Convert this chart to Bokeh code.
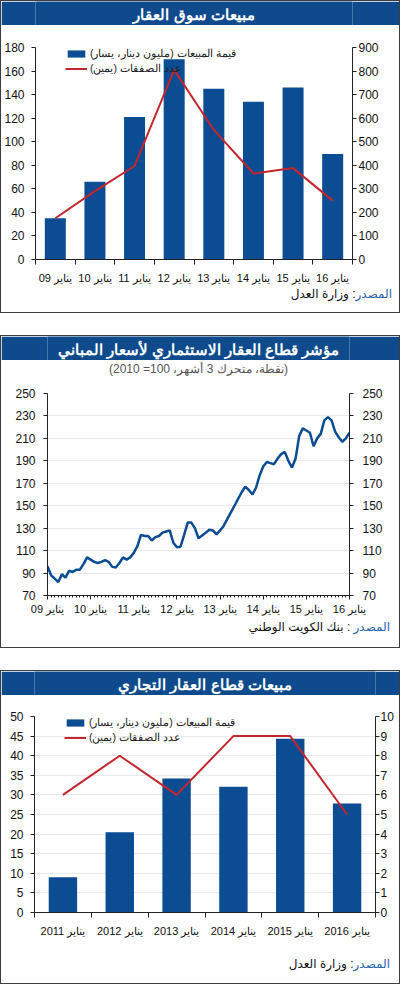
from bokeh.plotting import figure
from bokeh.layouts import column
from bokeh.models import Range1d, LinearAxis, FixedTicker, Legend, LegendItem, Spacer, Div
from bokeh.embed import file_html
from bokeh.resources import INLINE
from bokeh.core.properties import value

RLM = "\u200F"

# ---------------- data ----------------
# Panel 1: real-estate market sales
p1_title = "مبيعات سوق العقار"
p1_years = ["09", "10", "11", "12", "13", "14", "15", "16"]
p1_sales = [35, 66, 121, 170, 145, 134, 146, 89.5]          # left axis
p1_deals = [175, 290, 397, 805, 550, 365, 388, 250]         # right axis
p1_left_ticks = list(range(0, 181, 20))
p1_right_ticks = list(range(0, 901, 100))

# Panel 2: investment real-estate price index (monthly, Jan 09 .. Jan 16)
p2_title = "مؤشر قطاع العقار الاستثماري لأسعار المباني"
p2_subtitle = "(نقطة، متحرك 3 أشهر، 100= 2010)"
p2_index = [96, 88, 85, 82, 89, 86, 92, 91, 93, 93, 98, 104,
            102, 100, 99, 100, 101.5, 100, 95.5, 95, 99, 104, 102, 104,
            108, 114, 124, 123, 123, 119, 122, 123, 126, 127, 128, 117,
            113, 113.5, 124, 135, 135, 130, 121, 123.5, 126, 128.5, 128, 124.5,
            128, 132, 138, 144, 150, 156, 162, 167, 164, 160, 166, 177,
            185, 189, 188, 187, 192, 196, 198, 190, 184, 192, 212, 219,
            217, 215, 203, 210, 214, 226, 229, 226, 216, 211, 207, 210,
            215]
p2_years = ["09", "10", "11", "12", "13", "14", "15", "16"]
p2_ticks = list(range(70, 251, 20))

# Panel 3: commercial real-estate sales
p3_title = "مبيعات قطاع العقار التجاري"
p3_years = ["2011", "2012", "2013", "2014", "2015", "2016"]
p3_sales = [9, 20.5, 34.2, 32.1, 44.3, 27.8]                # left axis
p3_deals = [6, 8, 6, 9, 9, 5]                               # right axis
p3_left_ticks = list(range(0, 51, 5))
p3_right_ticks = list(range(0, 11, 1))

month_word = "يناير"
legend_sales = "قيمة المبيعات (مليون دينار، يسار)"
legend_deals = "عدد الصفقات (يمين)"
src_word = "المصدر"
src_moj = ": وزارة العدل"
src_nbk = " : بنك الكويت الوطني"

# ---------------- style ----------------
W = 398
FONT = "Liberation Sans"
NAVY = "#0f4b8c"
BAR = "#0b4c92"
RED = "#c4262e"
SRC_BLUE = "#1f62ad"
GRID = "#e9e9e9"
BORDER = {"border": "1px solid #3d3d3d"}


def bare(height, bg="white"):
    f = figure(width=W, height=height, x_range=Range1d(0, W), y_range=Range1d(height, 0),
               toolbar_location=None, output_backend="svg", min_border=0, title=None,
               x_axis_location=None, y_axis_location=None)
    f.grid.visible = False
    f.outline_line_color = None
    f.background_fill_color = bg
    f.border_fill_color = bg
    return f


def title_bar(text):
    f = bare(24, NAVY)
    f.text(x=[W / 2], y=[12.5], text=[text], text_align="center", text_baseline="middle",
           text_color="white", text_font=value(FONT), text_font_style="bold",
           text_font_size="15px")
    return f


def source_bar(height, pad_top, pad_right, txt):
    html = (f'<div dir="rtl" style="direction:rtl;text-align:right;display:block;'
            f'width:{W}px;box-sizing:border-box;'
            'font-family:\'Liberation Sans\',\'DejaVu Sans\',sans-serif;font-size:12px;'
            'line-height:14px;color:#111111;white-space:nowrap;'
            f'padding-top:{pad_top}px;padding-right:{pad_right}px;">'
            f'<span style="color:{SRC_BLUE}">{src_word}</span>{txt}</div>')
    return Div(text=html, width=W, height=height, margin=(0, 0, 0, 0),
               styles={"background-color": "white", "overflow": "hidden",
                       "width": f"{W}px"})


def style_axis(ax, standoff):
    ax.axis_line_color = "#222222"
    ax.major_tick_line_color = "#222222"
    ax.major_tick_out = 4
    ax.major_tick_in = 0
    ax.minor_tick_line_color = None
    ax.major_label_standoff = standoff
    ax.major_label_text_font = FONT
    ax.major_label_text_font_size = "12px"
    ax.major_label_text_color = "#111111"


def style_cat_xaxis(ax, ticks, minor, overrides, standoff=7):
    ax.ticker = FixedTicker(ticks=ticks, minor_ticks=minor)
    ax.major_label_overrides = overrides
    ax.axis_line_color = "#222222"
    ax.major_tick_line_color = None
    ax.major_tick_out = 0
    ax.major_tick_in = 0
    ax.minor_tick_line_color = "#222222"
    ax.minor_tick_out = 5
    ax.minor_tick_in = 0
    ax.major_label_standoff = standoff
    ax.major_label_text_font = FONT
    ax.major_label_text_font_size = "11px"
    ax.major_label_text_color = "#111111"


def make_legend(p, bars, line, frame_h):
    lg = Legend(items=[LegendItem(label=RLM + legend_sales + RLM, renderers=[bars]),
                       LegendItem(label=RLM + legend_deals + RLM, renderers=[line])],
                location=(28, frame_h - 34), orientation="vertical", padding=2, spacing=3,
                margin=0, glyph_width=22, glyph_height=9, label_height=9, label_standoff=3,
                label_text_font=FONT, label_text_font_size="10.5px", label_text_color="#222222",
                background_fill_alpha=0, border_line_alpha=0)
    p.add_layout(lg)


# ---------------- panel 1 ----------------
x1 = list(range(len(p1_years)))
c1 = figure(width=W, height=261, x_range=Range1d(-0.5, len(p1_years) - 0.5),
            y_range=Range1d(0, 180), toolbar_location=None, output_backend="svg", title=None,
            min_border_left=34, min_border_right=W - 34 - 317, min_border_top=22,
            min_border_bottom=22)
c1.outline_line_color = None
c1.grid.visible = False
c1.extra_y_ranges = {"right": Range1d(0, 900)}
c1.yaxis[0].ticker = FixedTicker(ticks=p1_left_ticks)
style_axis(c1.yaxis[0], 7)
r_ax1 = LinearAxis(y_range_name="right", ticker=FixedTicker(ticks=p1_right_ticks))
style_axis(r_ax1, 2)
c1.add_layout(r_ax1, "right")
style_cat_xaxis(c1.xaxis[0], x1, [i - 0.5 for i in range(len(p1_years) + 1)],
                {i: month_word + " " + y for i, y in enumerate(p1_years)})
b1 = c1.vbar(x=x1, top=p1_sales, width=0.53, fill_color=BAR, line_color=None)
l1 = c1.line(x=x1, y=p1_deals, y_range_name="right", line_color=RED, line_width=2)
make_legend(c1, b1, l1, 217)

panel1 = column(title_bar(p1_title), c1, source_bar(26, 1, 7, src_moj), styles=BORDER)

# ---------------- panel 2 ----------------
x2 = list(range(len(p2_index)))
sub2 = bare(18)
sub2.text(x=[W / 2], y=[8], text=[RLM + p2_subtitle + RLM], text_align="center",
          text_baseline="middle", text_color="#555555", text_font=value(FONT),
          text_font_size="12px")

c2 = figure(width=W, height=239, x_range=Range1d(0, len(p2_index) - 1),
            y_range=Range1d(70, 250), toolbar_location=None, output_backend="svg", title=None,
            min_border_left=46, min_border_right=W - 46 - 302, min_border_top=15,
            min_border_bottom=22)
c2.outline_line_color = None
c2.xgrid.visible = False
c2.extra_y_ranges = {"right": Range1d(70, 250)}
c2.yaxis[0].ticker = FixedTicker(ticks=p2_ticks)
c2.ygrid[0].ticker = FixedTicker(ticks=p2_ticks)
c2.ygrid[0].grid_line_color = GRID
style_axis(c2.yaxis[0], 8)
r_ax2 = LinearAxis(y_range_name="right", ticker=FixedTicker(ticks=p2_ticks))
style_axis(r_ax2, 9)
c2.add_layout(r_ax2, "right")
xa2 = c2.xaxis[0]
year_pos = [12 * i for i in range(len(p2_years))]
xa2.ticker = FixedTicker(ticks=year_pos, minor_ticks=x2)
xa2.major_label_overrides = {12 * i: month_word + " " + y for i, y in enumerate(p2_years)}
style_axis(xa2, 3)
xa2.major_label_text_font_size = "11px"
xa2.minor_tick_line_color = "#222222"
xa2.minor_tick_out = 2
xa2.minor_tick_in = 0
c2.line(x=x2, y=p2_index, line_color=BAR, line_width=2.5)

panel2 = column(title_bar(p2_title), sub2, c2, source_bar(30, 3, 9, src_nbk), styles=BORDER)

# ---------------- panel 3 ----------------
x3 = list(range(len(p3_years)))
c3 = figure(width=W, height=244, x_range=Range1d(-0.5, len(p3_years) - 0.5),
            y_range=Range1d(0, 50), toolbar_location=None, output_backend="svg", title=None,
            min_border_left=33, min_border_right=W - 33 - 341, min_border_top=21,
            min_border_bottom=22)
c3.outline_line_color = None
c3.xgrid.visible = False
c3.extra_y_ranges = {"right": Range1d(0, 10)}
c3.yaxis[0].ticker = FixedTicker(ticks=p3_left_ticks)
c3.ygrid[0].ticker = FixedTicker(ticks=p3_left_ticks)
c3.ygrid[0].grid_line_color = GRID
style_axis(c3.yaxis[0], 7)
r_ax3 = LinearAxis(y_range_name="right", ticker=FixedTicker(ticks=p3_right_ticks))
style_axis(r_ax3, 1)
c3.add_layout(r_ax3, "right")
style_cat_xaxis(c3.xaxis[0], x3, [i - 0.5 for i in range(len(p3_years) + 1)],
                {i: month_word + " " + y for i, y in enumerate(p3_years)})
b3 = c3.vbar(x=x3, top=p3_sales, width=0.5, fill_color=BAR, line_color=None)
l3 = c3.line(x=x3, y=p3_deals, y_range_name="right", line_color=RED, line_width=2)
make_legend(c3, b3, l3, 201)

panel3 = column(title_bar(p3_title), c3, source_bar(44, 18, 9, src_moj), styles=BORDER)

root = column(panel1, Spacer(width=400, height=22), panel2, Spacer(width=400, height=22), panel3)

with open("out.html", "w") as fh:
    fh.write(file_html(root, INLINE))
